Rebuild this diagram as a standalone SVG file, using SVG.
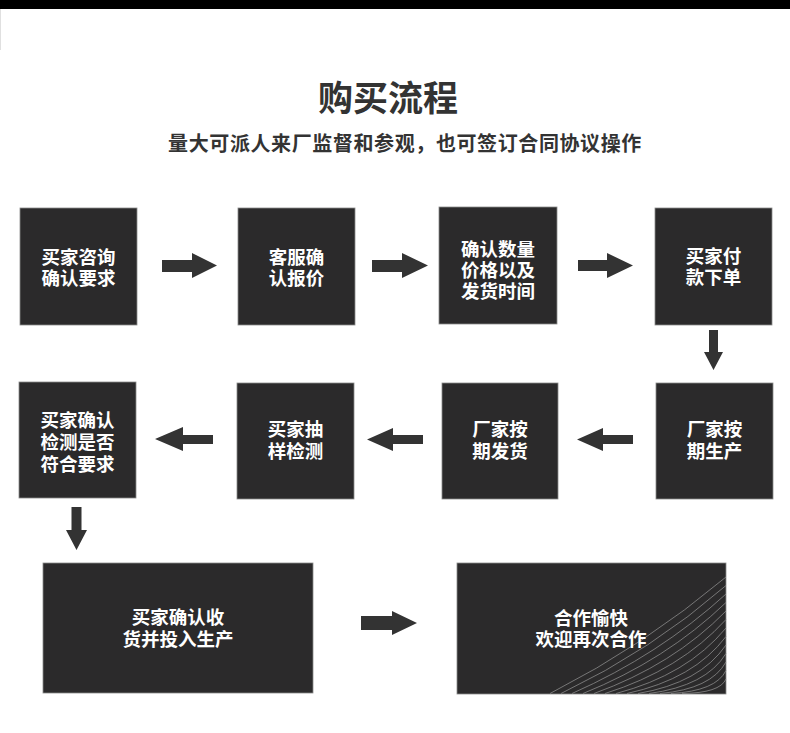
<svg xmlns="http://www.w3.org/2000/svg" width="790" height="733" viewBox="0 0 790 733">
<style>
.box{fill:#2b2a2b;stroke:#8a8a8a;stroke-width:0.8}
.bt{fill:#ffffff;font-family:"Noto Sans CJK SC","Noto Sans",sans-serif;font-weight:700;font-size:18.5px;text-anchor:middle}
.arr{fill:#333333}
.ln{fill:none;stroke:#8a8a8a;stroke-width:0.8}
</style>
<rect x="0" y="0" width="790" height="9" fill="#000000"/>
<line x1="0.5" y1="9" x2="0.5" y2="50" stroke="#e0e0e0" stroke-width="1"/>
<text x="388" y="111" font-family="'Noto Sans CJK SC','Noto Sans',sans-serif" font-weight="700" font-size="35" fill="#333333" text-anchor="middle">购买流程</text>
<text x="405" y="151" font-family="'Noto Sans CJK SC','Noto Sans',sans-serif" font-weight="700" font-size="20" fill="#333333" text-anchor="middle" letter-spacing="0.6">量大可派人来厂监督和参观，也可签订合同协议操作</text>

<g id="n1"><rect class="box" x="20" y="208" width="117" height="117"/><text class="bt" x="78.5" y="264">买家咨询<tspan x="78.5" dy="21">确认要求</tspan></text></g>
<g id="n2"><rect class="box" x="238" y="208" width="117" height="117"/><text class="bt" x="296.5" y="264">客服确<tspan x="296.5" dy="21">认报价</tspan></text></g>
<g id="n3"><rect class="box" x="439" y="207" width="118" height="117"/><text class="bt" x="498" y="256">确认数量<tspan x="498" dy="21">价格以及</tspan><tspan x="498" dy="21">发货时间</tspan></text></g>
<g id="n4"><rect class="box" x="655" y="208" width="117" height="117"/><text class="bt" x="713.5" y="263">买家付<tspan x="713.5" dy="21">款下单</tspan></text></g>
<g id="n5"><rect class="box" x="19" y="382" width="117" height="116"/><text class="bt" x="77.5" y="427">买家确认<tspan x="77.5" dy="22">检测是否</tspan><tspan x="77.5" dy="22">符合要求</tspan></text></g>
<g id="n6"><rect class="box" x="237" y="383" width="117" height="116"/><text class="bt" x="295.5" y="436">买家抽<tspan x="295.5" dy="22">样检测</tspan></text></g>
<g id="n7"><rect class="box" x="442" y="383" width="116" height="116"/><text class="bt" x="500" y="436">厂家按<tspan x="500" dy="22">期发货</tspan></text></g>
<g id="n8"><rect class="box" x="656" y="383" width="117" height="116"/><text class="bt" x="714.5" y="436">厂家按<tspan x="714.5" dy="22">期生产</tspan></text></g>
<g id="n9"><rect class="box" x="43" y="563" width="270" height="130"/><text class="bt" x="178" y="624">买家确认收<tspan x="178" dy="22">货并投入生产</tspan></text></g>
<g id="n10"><rect class="box" x="457" y="563" width="269" height="131"/>
<g class="lines">
<path class="ln" d="M550,693.5 Q645,645 726,577"/>
<path class="ln" d="M561,693.5 Q652,650 726,585.5"/>
<path class="ln" d="M572,693.5 Q659,655 726,594"/>
<path class="ln" d="M583,693.5 Q666,660 726,602.5"/>
<path class="ln" d="M594,693.5 Q673,665 726,611"/>
<path class="ln" d="M605,693.5 Q680,670 726,619.5"/>
<path class="ln" d="M616,693.5 Q687,675 726,628"/>
<path class="ln" d="M627,693.5 Q694,679 726,636.5"/>
<path class="ln" d="M638,693.5 Q700,683 726,645"/>
<path class="ln" d="M649,693.5 Q706,686 726,653.5"/>
<path class="ln" d="M660,693.5 Q711,689 726,662"/>
<path class="ln" d="M671,693.5 Q716,691 726,670.5"/>
<path class="ln" d="M682,693.5 Q720,693 726,679"/>
</g>
<text class="bt" x="591" y="625">合作愉快<tspan x="591" dy="21">欢迎再次合作</tspan></text></g>

<g id="connectors" class="arr">
<polygon points="162,260 192,260 192,253 217,265.5 192,278 192,272 162,272"/>
<polygon points="372,260 402,260 402,253 428,265.5 402,278 402,272 372,272"/>
<polygon points="578,260 607,260 607,253 633,265.5 607,278 607,271 578,271"/>
<polygon points="709,330 718,330 718,352 723,352 713.5,370 704,352 709,352"/>
<polygon points="633,435 603,435 603,428 577,439.5 603,451 603,444 633,444"/>
<polygon points="423,435 393,435 393,428 367,439.5 393,451 393,444 423,444"/>
<polygon points="213,435 183,435 183,427 155,439 183,451 183,444 213,444"/>
<polygon points="71.5,507 81.5,507 81.5,530 87,530 76.5,550 66,530 71.5,530"/>
<polygon points="361,616 392,616 392,611 417,623 392,635 392,630 361,630"/>
</g>
</svg>
